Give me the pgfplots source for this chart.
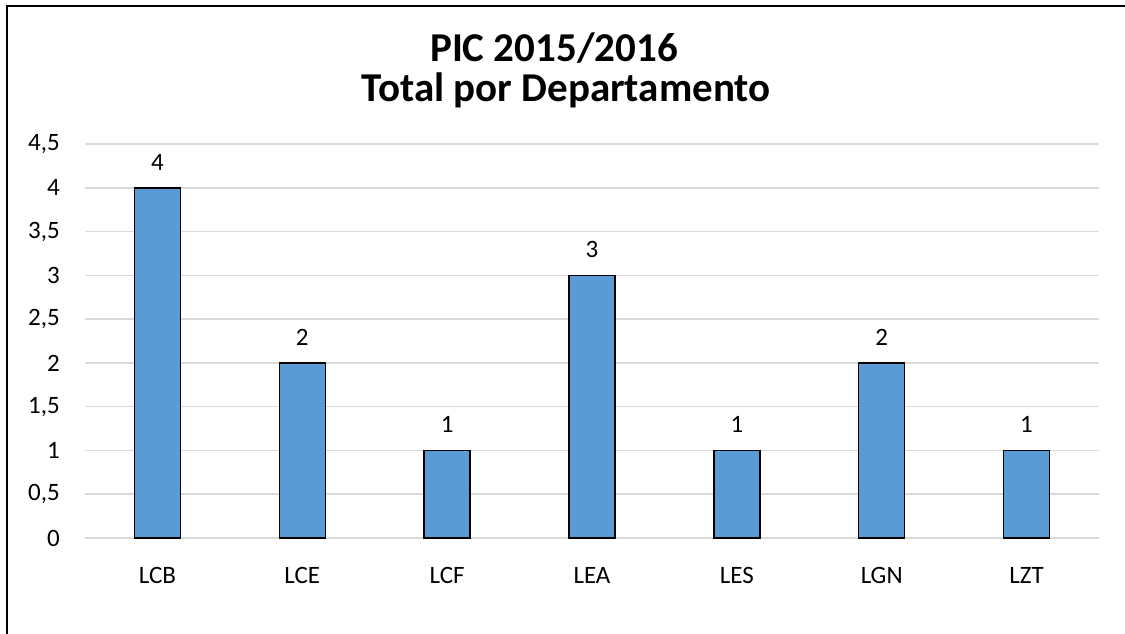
\documentclass[border=0pt]{standalone}
\usepackage{fontspec}
\setmainfont{Carlito}
\usepackage{pgfplots}
\pgfplotsset{compat=1.18}
\definecolor{barblue}{HTML}{5B9BD5}
\definecolor{gridgray}{HTML}{D9D9D9}
\begin{document}
\begin{tikzpicture}
\useasboundingbox (-63.75pt,-71.25pt) rectangle (780pt,403.5pt);
\draw[line width=1.6pt] (-58.5pt,-90pt) -- (-58.5pt,399pt) -- (800pt,399pt);
\node[anchor=base,font=\fontsize{30.75pt}{30.75pt}\selectfont\bfseries,inner sep=0pt] at (351.75pt,357pt) {PIC 2015/2016};
\node[anchor=base,font=\fontsize{30.75pt}{30.75pt}\selectfont\bfseries,inner sep=0pt] at (360.75pt,327pt) {Total por Departamento};
\begin{axis}[
  at={(0pt,0pt)}, anchor=south west,
  scale only axis,
  width=760.5pt, height=295.5pt,
  xmin=-0.5, xmax=6.5, ymin=0, ymax=4.5,
  ybar, bar width=34.5pt,
  xtick={0,1,2,3,4,5,6},
  xticklabels={LCB,LCE,LCF,LEA,LES,LGN,LZT},
  ytick={0,0.5,1,1.5,2,2.5,3,3.5,4,4.5},
  /pgf/number format/use comma,
  /pgf/number format/assume math mode=true,
  major tick length=0pt,
  axis line style={draw=none},
  ymajorgrids, xmajorgrids=false,
  major grid style={draw=gridgray, line width=1.1pt},
  tick label style={font=\fontsize{18.75pt}{18.75pt}\selectfont},
  yticklabel style={anchor=east, inner sep=0pt, xshift=-18.75pt},
  xticklabel style={anchor=north, inner sep=0pt, yshift=-21.75pt},
  nodes near coords,
  every node near coord/.append style={font=\fontsize{18.75pt}{18.75pt}\selectfont, anchor=south, inner sep=0pt, yshift=12.75pt},
  axis on top=false,
]
\addplot[fill=barblue, draw=black, line width=1.1pt, bar shift=0pt] coordinates {
  (0,4) (1,2) (2,1) (3,3) (4,1) (5,2) (6,1)
};
\end{axis}
\end{tikzpicture}
\end{document}
